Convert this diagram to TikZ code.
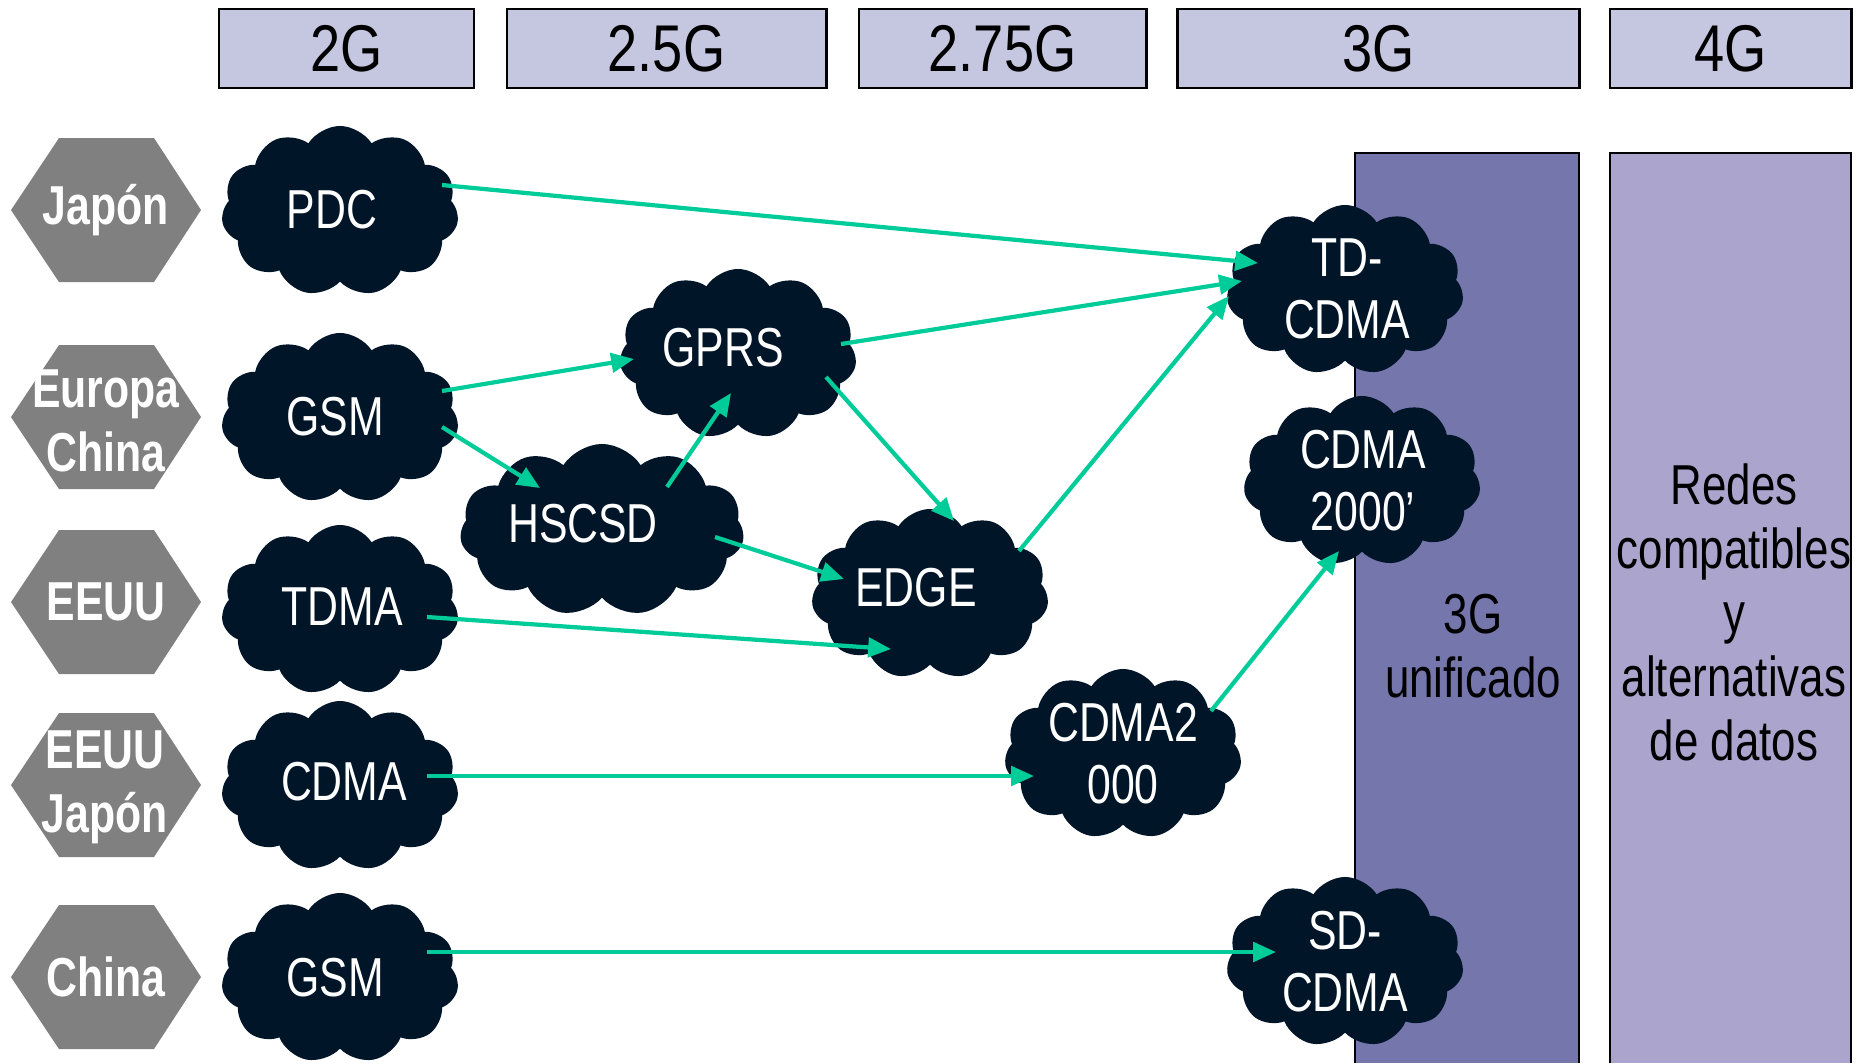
\documentclass[tikz,border=0pt]{standalone}
\usepackage{fontspec}
\setmainfont[FakeStretch=0.78]{Liberation Sans}
\newfontfamily\hdrfont[FakeStretch=0.82]{Liberation Sans}
\usetikzlibrary{shapes.symbols,arrows.meta,calc}
\definecolor{hdrfill}{RGB}{197,198,223}
\definecolor{colA}{RGB}{116,118,172}
\definecolor{colB}{RGB}{171,165,205}
\definecolor{cloudfill}{RGB}{1,21,40}
\definecolor{arrgreen}{RGB}{0,204,153}
\definecolor{hexgray}{RGB}{128,128,128}
\begin{document}
\begin{tikzpicture}[x=0.01cm,y=-0.01cm,
  hdr/.style={draw=black, line width=0.8pt, fill=hdrfill, inner sep=0pt, minimum height=0.79cm, font=\hdrfont\fontsize{18.8}{22}\selectfont},
  cloudshape/.style={cloud, cloud puffs=11, cloud puff arc=115, cloud ignores aspect, fill=cloudfill, inner sep=0pt, minimum width=2.37cm, minimum height=1.70cm},
  cloudtext/.style={text=white, align=center, inner sep=0pt, font=\fontsize{15.6}{17.6}\selectfont},
  hexshape/.style={fill=hexgray},
  hextext/.style={text=white, align=center, inner sep=0pt, font=\bfseries\fontsize{15.6}{18.2}\selectfont},
  coltext/.style={text=black, align=center, inner sep=0pt, font=\fontsize{16}{18.2}\selectfont},
  colborder/.style={draw=black, line width=0.8pt},
  arr/.style={draw=arrgreen, line width=1.2pt, -{Triangle[length=6.5pt,width=5.5pt]}}
]
\useasboundingbox (0,0) rectangle (1858,1063);

% header boxes
\node[hdr, minimum width=2.55cm] (h2g)  at (346.5,48.5) {2G};
\node[hdr, minimum width=3.19cm] (h25g) at (666.5,48.5) {2.5G};
\node[hdr, minimum width=2.87cm] (h275g) at (1002.5,48.5) {2.75G};
\node[hdr, minimum width=4.01cm] (h3g)  at (1378.5,48.5) {3G};
\node[hdr, minimum width=2.41cm] (h4g)  at (1730.5,48.5) {4G};

% columns
\fill[colA] (1355,153) rectangle (1579,1063);
\draw[colborder] (1355,1063) -- (1355,153) -- (1579,153) -- (1579,1063);
\fill[colB] (1610,153) rectangle (1851,1063);
\draw[colborder] (1610,1063) -- (1610,153) -- (1851,153) -- (1851,1063);
\node[coltext] (t3g) at (1473,646) {3G\\unificado};
\node[coltext] (t4g) at (1734,612) {Redes\\compatibles\\y\\alternativas\\de datos};

% hexagons
\foreach \cy in {210,417,602,785,977}
  \fill[hexshape, shift={(106,\cy)}] (-95,0) -- (-47,-72) -- (48,-72) -- (95,0) -- (48,72) -- (-47,72) -- cycle;
\node[hextext] (xjp) at (106,210) {Japón};
\node[hextext] (xeu) at (106,421) {Europa\\China};
\node[hextext] (xus) at (106,602) {EEUU};
\node[hextext] (xusjp) at (105,787) {EEUU\\Japón};
\node[hextext] (xcn) at (106,977) {China};

% clouds
\node[cloudshape] (pdc) at (340,211) {};
\node[cloudtext] (pdcT) at (332,210) {PDC};
\node[cloudshape] (gsmA) at (340,418) {};
\node[cloudtext] (gsmAT) at (335,417) {GSM};
\node[cloudshape] (tdma) at (340,610) {};
\node[cloudtext] (tdmaT) at (342,607) {TDMA};
\node[cloudshape] (cdma) at (340,786) {};
\node[cloudtext] (cdmaT) at (344,782) {CDMA};
\node[cloudshape] (gsmB) at (340,978) {};
\node[cloudtext] (gsmBT) at (335,978) {GSM};
\node[cloudshape] (gprs) at (738,354) {};
\node[cloudtext] (gprsT) at (723,348) {GPRS};
\node[cloudshape, minimum width=2.84cm, minimum height=1.72cm] (hscsd) at (602,530) {};
\node[cloudtext] (hscsdT) at (583,524) {HSCSD};
\node[cloudshape] (edge) at (930,594) {};
\node[cloudtext] (edgeT) at (916,588) {EDGE};
\node[cloudshape] (cdmatwo) at (1123,754) {};
\node[cloudtext] (cdmatwoT) at (1123,754) {CDMA2\\000};
\node[cloudshape] (tdcdma) at (1345,290) {};
\node[cloudtext] (tdcdmaT) at (1347,289) {TD-\\CDMA};
\node[cloudshape] (cdmatwop) at (1362,481) {};
\node[cloudtext] (cdmatwopT) at (1363,481) {CDMA\\2000’};
\node[cloudshape] (sdcdma) at (1345,962) {};
\node[cloudtext] (sdcdmaT) at (1345,962) {SD-\\CDMA};

% arrows
\draw[arr] ($(pdc)+(102,-26)$) -- ($(tdcdma)+(-87,-27)$);
\draw[arr] ($(gsmA)+(102,-27)$) -- ($(gprs)+(-104,5)$);
\draw[arr] ($(gsmA)+(102,9)$) -- ($(hscsd)+(-62,-42)$);
\draw[arr] ($(hscsd)+(65,-43)$) -- ($(gprs)+(-7,39)$);
\draw[arr] ($(gprs)+(103,-10)$) -- ($(tdcdma)+(-103,-9)$);
\draw[arr] ($(gprs)+(88,23)$) -- ($(edge)+(24,-73)$);
\draw[arr] ($(hscsd)+(113,7)$) -- ($(edge)+(-86,-15)$);
\draw[arr] ($(tdma)+(87,7)$) -- ($(edge)+(-39,55)$);
\draw[arr] ($(edge)+(89,-43)$) -- ($(tdcdma)+(-116,6)$);
\draw[arr] ($(cdma)+(87,-10)$) -- ($(cdmatwo)+(-89,22)$);
\draw[arr] ($(cdmatwo)+(88,-43)$) -- ($(cdmatwop)+(-23,70)$);
\draw[arr] ($(gsmB)+(87,-26)$) -- ($(sdcdma)+(-69,-10)$);
\end{tikzpicture}
\end{document}
